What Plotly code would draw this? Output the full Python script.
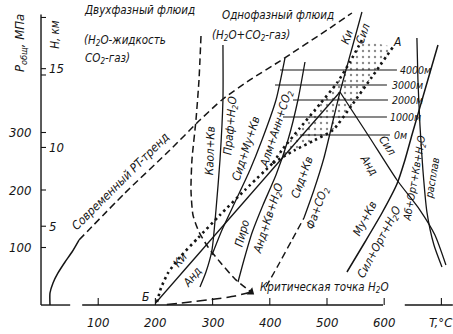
import plotly.graph_objects as go

INK = "#151515"
FONT = "DejaVu Sans Condensed, Liberation Sans Narrow, DejaVu Sans, sans-serif"

# ---------------- axes ----------------
t_ticks = [100, 200, 300, 400, 500, 600, 700]
t_tick_text = ["100", "200", "300", "400", "500", "600", "T,°C"]
p_ticks = [100, 200, 300, 400, 500]
p_tick_text = ["100", "200", "300", "", ""]
h_ticks = [5, 10, 15]              # depth, km
h_tick_text = ["5", "10", "15"]
mpa_per_km = 27.4                  # lithostatic gradient of the H scale
t_axis_segments = [(0, 51), (72, 598), (636, 720)]
p_axis_top = 505

# ---------------- curves (T, °C ; P, MPa) ----------------
# present-day PT trend (solid near the surface, dashed above)
trend_solid_t = [15.7, 15.7, 21.0, 29.7, 42.0, 54.2, 66.4]
trend_solid_p = [0, 20.9, 38.3, 55.7, 74.8, 92.2, 113.0]
trend_dash_t = [66.4, 146.8, 225.5, 277.9, 318.1, 365.3, 417.8, 505.2, 543.6]
trend_dash_p = [113.0, 194.8, 269.5, 321.7, 358.2, 391.3, 424.3, 481.7, 507.8]

# boundary of the two-phase fluid field
twophase_t = [279.7, 276.2, 270.9, 263.9, 262.2, 265.7, 276.2, 291.9, 312.9, 339.1, 367.1]
twophase_p = [467.8, 391.3, 321.7, 252.2, 200.0, 156.5, 127.0, 100.9, 74.8, 45.2, 22.6]

# liquid-vapour curve of water up to the critical point
boil_t = [220, 260.5, 304.2, 339.1, 367.1]
boil_p = [1, 5.2, 10.4, 15.7, 22.6]
crit_t = [367.1]
crit_p = [22.6]

# Sid + Qz = Fa + CO2 (dashed part) and its steep continuation Ky / Sil
sid_dash_t = [393.3, 417.8, 438.7, 459.7]
sid_dash_p = [31.3, 74.8, 113.0, 151.3]
steep_t = [459.7, 477.2, 494.6, 508.7, 522.7, 541.9, 561.1]
steep_p = [151.3, 200.0, 255.6, 313.0, 370.4, 440.0, 509.5]

# Ky / And and And / Sil
ky_and_t = [200, 522.7]
ky_and_p = [3, 370.4]
and_sil_t = [522.7, 575.1, 622.3, 662.5, 688.7, 707.9]
and_sil_p = [370.4, 290.4, 217.4, 165.2, 121.7, 69.6]

# granite solidus (Ab + Or + Qz + H2O = melt)
solidus_t = [657.2, 659.0, 662.5, 667.7, 674.7, 687.0, 701.0]
solidus_p = [464.3, 391.3, 313.0, 234.8, 161.7, 104.3, 66.1]

# Ms + Qz = Sil + Or + H2O
musc_t = [534.9, 566.4, 596.1, 622.3, 636.3, 648.5, 671.2, 694.0]
musc_p = [57.4, 109.6, 160.0, 210.4, 252.2, 295.6, 373.9, 452.1]

# Kln + Qz = Prl + H2O
kaol_t = [318.1, 318.1, 312.9, 305.9, 298.9, 288.4, 277.9]
kaol_p = [452.0, 356.5, 252.2, 165.2, 95.6, 57.4, 31.3]

# Sid + Ms + Qz = Alm + Ann + CO2
sidms_t = [426.5, 410.8, 386.3, 365.3, 340.9, 316.4, 298.9]
sidms_p = [429.5, 356.5, 286.9, 234.8, 182.6, 130.4, 87.0]

# Prl = And + Qz + H2O
prl_t = [461.5, 449.2, 431.8, 410.8, 388.1, 368.8, 354.8, 344.4]
prl_p = [422.6, 356.5, 286.9, 226.1, 173.9, 125.2, 78.3, 40.0]

# isobars for depths of formation
depth_labels = ["4000м", "3000м", "2000м", "1000м", "0м"]
depth_p = [408.7, 382.6, 356.5, 326.9, 295.6]
depth_t0 = [417.8, 409.0, 440.5, 423.0, 452.7]
depth_t1 = [622.3, 604.8, 606.6, 604.8, 610.1]
depth_label_t = [624.0, 610.1, 610.1, 606.6, 613.5]

# dotted PT path from Б, splitting into two branches (left one and the one to A)
path_t = [202.8, 209.8, 222.0, 243.0, 274.4, 312.9, 356.6, 405.5]
path_p = [5.2, 29.6, 55.6, 83.5, 116.5, 156.5, 200.0, 246.9]
branch_left_t = [405.5, 421.3, 452.7, 487.7, 517.4, 540.1, 561.1]
branch_left_p = [246.9, 269.5, 307.8, 349.5, 386.1, 422.6, 460.8]
branch_a_t = [405.5, 444.0, 479.0, 510.4, 543.6, 578.6, 615.3]
branch_a_p = [246.9, 269.5, 286.9, 304.3, 347.8, 396.5, 448.7]

fig = go.Figure()


def line(t, p, dash="solid", width=1.3):
    fig.add_trace(go.Scatter(x=t, y=p, mode="lines", hoverinfo="skip",
                             line=dict(color=INK, width=width, dash=dash, shape="spline", smoothing=0.6)))


# stippled band between the two dotted branches
band_t = branch_left_t + branch_a_t[::-1]
band_p = branch_left_p + branch_a_p[::-1]
fig.add_trace(go.Scatter(x=band_t, y=band_p, mode="lines", fill="toself", hoverinfo="skip",
                         line=dict(width=0, color="rgba(0,0,0,0)"),
                         fillcolor="rgba(0,0,0,0)",
                         fillpattern=dict(shape=".", fgcolor=INK, bgcolor="rgba(0,0,0,0)",
                                          size=6, solidity=0.12)))

# axes
for a, b in t_axis_segments:
    line([a, b], [0, 0], width=1.4)
line([0, 0], [0, p_axis_top], width=1.4)
for t in t_ticks:
    line([t, t], [0, 12], width=1.1)
for p in p_ticks:
    line([0, 8.7], [p, p], width=1.1)
for h in h_ticks:
    line([0, 8.7], [h * mpa_per_km, h * mpa_per_km], width=1.1)

line(trend_solid_t, trend_solid_p, width=1.5)
line(trend_dash_t, trend_dash_p, dash="7px,4px", width=1.5)
line(twophase_t, twophase_p, dash="7px,4px", width=1.5)
line(boil_t, boil_p, dash="10px,5px", width=1.5)
line(sid_dash_t, sid_dash_p, dash="7px,4px", width=1.4)
line(steep_t, steep_p)
line(ky_and_t, ky_and_p)
line(and_sil_t, and_sil_p)
line(solidus_t, solidus_p)
line(musc_t, musc_p, width=1.5)
line(kaol_t, kaol_p)
line(sidms_t, sidms_p)
line(prl_t, prl_p)
for p, a, b in zip(depth_p, depth_t0, depth_t1):
    line([a, b], [p, p], width=1.1)
line(path_t, path_p, dash="2.5px,3.5px", width=2.6)
line(branch_left_t, branch_left_p, dash="2.5px,3.5px", width=2.6)
line(branch_a_t, branch_a_p, dash="2.5px,3.5px", width=2.6)

fig.add_trace(go.Scatter(x=crit_t, y=crit_p, mode="markers", hoverinfo="skip",
                         marker=dict(symbol="triangle-right", size=8, angle=38, color=INK)))

ann = []


def label(text, t, p, angle=0, size=11.5, xanchor="center", yanchor="middle"):
    ann.append(dict(x=t, y=p, xref="x", yref="y", text="<i>" + text + "</i>", showarrow=False,
                    textangle=angle, xanchor=xanchor, yanchor=yanchor,
                    font=dict(family=FONT, size=size, color=INK)))


for t, s in zip(t_ticks, t_tick_text):
    label(s, t, -29.6, size=13)
for p, s in zip(p_ticks, p_tick_text):
    if s:
        label(s, -14, p, size=13, xanchor="right")
for h, s in zip(h_ticks, h_tick_text):
    label(s, 10.5, h * mpa_per_km, size=13, xanchor="left")

label("P<sub>общ</sub>, МПа", -36.7, 455.6, angle=-90, size=13)
label("H, км", 24.5, 470.0, angle=-90, size=11.5)

label("Двухфазный флюид", 71.7, 513, xanchor="left")
label("(H<sub>2</sub>O-жидкость", 71.7, 460.8, xanchor="left")
label("CO<sub>2</sub>-газ)", 73.4, 429.5, xanchor="left")
label("Однофазный флюид", 312.9, 504.3, xanchor="left")
label("(H<sub>2</sub>O+CO<sub>2</sub>-газ)", 295.4, 469.5, xanchor="left")
label("Современный PT-тренд", 138.1, 213.9, angle=-45, size=12)
label("Каол+Кв", 295.4, 269.5, angle=-88)
label("Праф+H<sub>2</sub>O", 330.4, 313.0, angle=-85)
label("Сид+Му+Кв", 358.3, 273.0, angle=-72)
label("Алм+Анн+CO<sub>2</sub>", 410.8, 307.8, angle=-72)
label("Пиро", 351.3, 125.2, angle=-75)
label("Анд+Кв+H<sub>2</sub>O", 396.8, 151.3, angle=-72)
label("Сид+Кв", 456.2, 222.6, angle=-70)
label("Фа+CO<sub>2</sub>", 482.4, 168.7, angle=-70)
label("Ки", 534.9, 466.1, angle=-70)
label("Сил", 562.9, 473.0, angle=-70)
label("Ки", 243.0, 78.3, angle=-50)
label("Анд", 264.0, 48.7, angle=-50)
label("Б", 183.5, 13.9, size=12)
label("A", 622.3, 457.4, size=12)
label("Сил", 606.5, 276.5, angle=57)
label("Анд", 573.3, 243.5, angle=57)
label("Му+Кв", 566.4, 151.3, angle=-62)
label("Сил+Орт+H<sub>2</sub>O", 592.6, 109.6, angle=-62)
label("Аб+Орт+Кв+H<sub>2</sub>O", 653.8, 220.9, angle=-80, size=10.5)
label("расплав", 683.5, 220.9, angle=-80, size=10.5)
label("Критическая точка H<sub>2</sub>O", 496.4, 29.6)
for s, t, p in zip(depth_labels, depth_label_t, depth_p):
    label(s, t, p, size=10.5, xanchor="left")

fig.update_layout(
    width=453, height=334,
    margin=dict(l=0, r=0, t=0, b=0),
    paper_bgcolor="white", plot_bgcolor="white",
    showlegend=False,
    annotations=ann,
    xaxis=dict(range=[-71.7, 720.3], visible=False, fixedrange=True),
    yaxis=dict(range=[-50.4, 530.4], visible=False, fixedrange=True),
)

fig.write_html("out.html")
